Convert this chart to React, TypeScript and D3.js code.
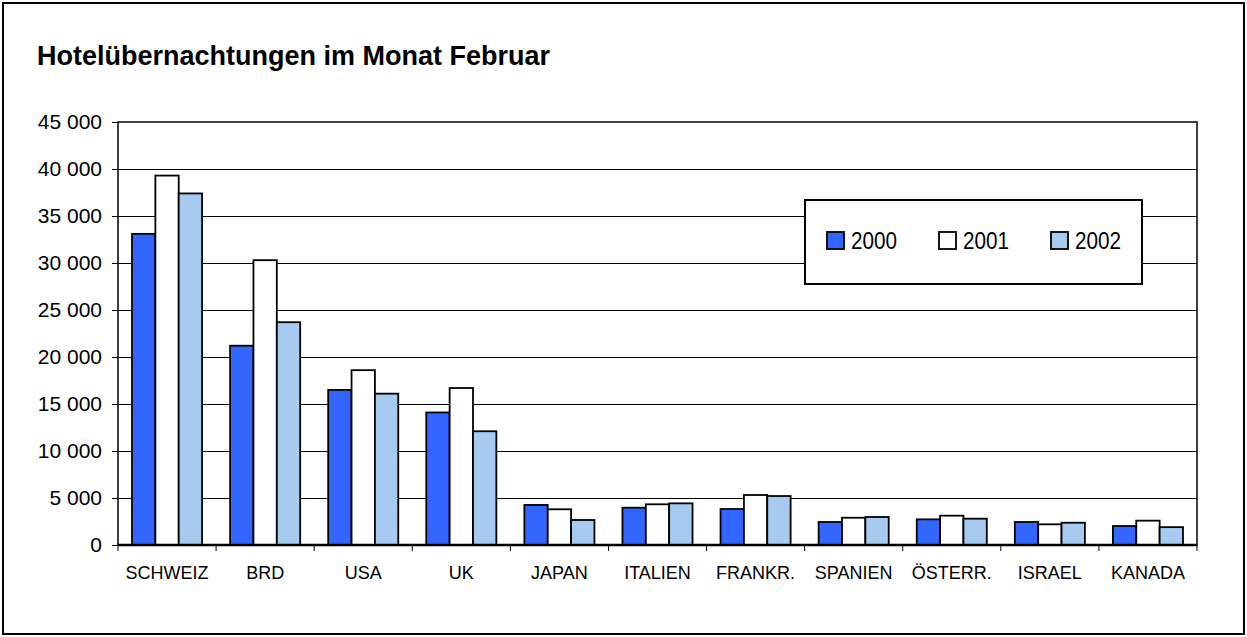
import React, { useEffect, useRef } from 'react';
import * as d3 from 'd3';

// Werte
const countries = ['SCHWEIZ', 'BRD', 'USA', 'UK', 'JAPAN', 'ITALIEN', 'FRANKR.', 'SPANIEN', 'ÖSTERR.', 'ISRAEL', 'KANADA'];
const years = ['2000', '2001', '2002'];
const values2000 = [33100, 21200, 16500, 14100, 4260, 3970, 3830, 2450, 2730, 2450, 2020];
const values2001 = [39300, 30300, 18600, 16700, 3800, 4330, 5320, 2900, 3120, 2200, 2590];
const values2002 = [37400, 23700, 16100, 12100, 2660, 4430, 5210, 2980, 2800, 2370, 1900];
const yTicks = [0, 5000, 10000, 15000, 20000, 25000, 30000, 35000, 40000, 45000];
const colors = ['#3366FF', '#FFFFFF', '#A6CAF0'];

const App = () => {
  const svgRef = useRef(null);
  const width = 1247;
  const height = 637;
  const margin = { left: 118, right: 50, top: 122, bottom: 92 };
  const font = 'Liberation Sans, Arial, sans-serif';

  useEffect(() => {
    const svg = d3.select(svgRef.current);
    svg.selectAll('*').remove();

    const series = [values2000, values2001, values2002];
    const x = d3.scaleBand().domain(countries).range([margin.left, width - margin.right]);
    const xInner = d3.scaleBand().domain(years).range([0, x.bandwidth()]).paddingInner(0).paddingOuter(0.6);
    const y = d3.scaleLinear().domain([0, 45000]).range([height - margin.bottom, margin.top]);
    const fmt = (v: number) => d3.format(',')(v).replace(/,/g, ' ');

    // äusserer Rahmen
    svg.append('rect')
      .attr('x', 3).attr('y', 3)
      .attr('width', width - 6).attr('height', height - 6)
      .attr('fill', '#fff').attr('stroke', '#000').attr('stroke-width', 2);

    svg.append('text')
      .attr('x', 37).attr('y', 65)
      .attr('font-family', font)
      .attr('font-size', 27).attr('font-weight', 'bold')
      .text('Hotelübernachtungen im Monat Februar');

    // Gitterlinien
    svg.append('g')
      .selectAll('line')
      .data(yTicks.slice(1, -1))
      .enter().append('line')
        .attr('x1', margin.left).attr('x2', width - margin.right)
        .attr('y1', (d) => Math.round(y(d)) + 0.5).attr('y2', (d) => Math.round(y(d)) + 0.5)
        .attr('stroke', '#000').attr('stroke-width', 1);

    // y-Achse
    const yAxis = svg.append('g')
      .attr('transform', `translate(${margin.left},0)`)
      .call(d3.axisLeft(y).tickValues(yTicks).tickFormat(fmt).tickSize(6).tickPadding(10));
    yAxis.select('.domain').remove();
    yAxis.selectAll('text')
      .attr('font-family', font)
      .attr('font-size', 21).attr('fill', '#000');
    yAxis.selectAll('line').attr('stroke', '#000');

    // Balken
    svg.append('g')
      .selectAll('g')
      .data(countries)
      .enter().append('g')
        .attr('transform', (d) => `translate(${x(d)},0)`)
        .selectAll('rect')
        .data((d, i) => series.map((s, k) => ({ year: years[k], value: s[i], k })))
        .enter().append('rect')
          .attr('x', (d) => xInner(d.year))
          .attr('y', (d) => y(d.value))
          .attr('width', xInner.bandwidth())
          .attr('height', (d) => y(0) - y(d.value))
          .attr('fill', (d) => colors[d.k])
          .attr('stroke', '#000').attr('stroke-width', 1.8);

    // Rahmen der Zeichenfläche
    svg.append('rect')
      .attr('x', margin.left).attr('y', margin.top)
      .attr('width', width - margin.left - margin.right)
      .attr('height', height - margin.top - margin.bottom)
      .attr('fill', 'none').attr('stroke', '#000').attr('stroke-width', 1.5);

    // x-Achse
    const xAxis = svg.append('g')
      .attr('transform', `translate(0,${height - margin.bottom})`);
    xAxis.append('line')
      .attr('x1', margin.left).attr('x2', width - margin.right)
      .attr('stroke', '#000').attr('stroke-width', 2.5);
    xAxis.selectAll('line.tick')
      .data(countries.concat(['end']))
      .enter().append('line')
        .attr('class', 'tick')
        .attr('x1', (d, i) => margin.left + i * x.step())
        .attr('x2', (d, i) => margin.left + i * x.step())
        .attr('y1', 0).attr('y2', 6)
        .attr('stroke', '#000');
    xAxis.selectAll('text')
      .data(countries)
      .enter().append('text')
        .attr('x', (d) => x(d) + x.bandwidth() / 2)
        .attr('y', 34)
        .attr('text-anchor', 'middle')
        .attr('font-family', font)
        .attr('font-size', 18)
        .text((d) => d);

    // Legende
    const legend = svg.append('g').attr('transform', 'translate(805,200)');
    legend.append('rect')
      .attr('width', 337).attr('height', 84)
      .attr('fill', '#fff').attr('stroke', '#000').attr('stroke-width', 2);
    const items = legend.selectAll('g.item')
      .data(years)
      .enter().append('g')
        .attr('class', 'item')
        .attr('transform', (d, i) => `translate(${22 + i * 112},32)`);
    items.append('rect')
      .attr('width', 17).attr('height', 17)
      .attr('fill', (d, i) => colors[i])
      .attr('stroke', '#000').attr('stroke-width', 1.8);
    // schmale Schrift nachgebildet
    items.append('text')
      .attr('transform', 'translate(24,17) scale(0.9,1)')
      .attr('font-family', font)
      .attr('font-size', 23)
      .text((d) => d);
  }, []);

  return (
    <svg ref={svgRef} width={width} height={height} style={{ position: 'absolute', left: 0, top: 0 }} />
  );
};

export default App;
